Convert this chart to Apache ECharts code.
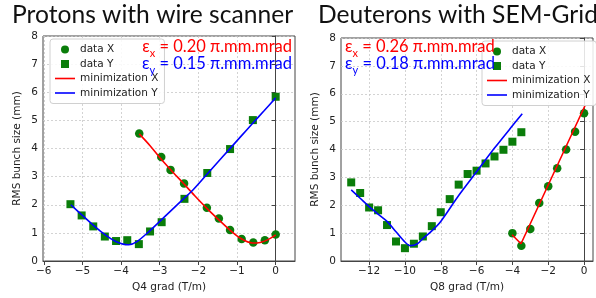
<!DOCTYPE html>
<html>
<head>
<meta charset="utf-8">
<script src="https://cdn.jsdelivr.net/npm/echarts@6/dist/echarts.min.js"></script>
<style>
  html, body { margin: 0; padding: 0; background: #fff; }
  #chart { width: 596px; height: 298px; }
</style>
</head>
<body>
<div id="chart"></div>
<script>
// protons, Q4 scan
var q4DataXGrad = [-3.53, -2.96, -2.72, -2.37, -1.78, -1.47, -1.18, -0.88, -0.58, -0.28, 0];
var q4DataXSize = [4.53, 3.70, 3.24, 2.76, 1.89, 1.51, 1.10, 0.78, 0.66, 0.74, 0.94];
var q4DataYGrad = [-5.31, -5.02, -4.72, -4.42, -4.13, -3.84, -3.54, -3.25, -2.95, -2.36, -1.77, -1.18, -0.59, 0];
var q4DataYSize = [2.02, 1.62, 1.23, 0.87, 0.71, 0.74, 0.60, 1.05, 1.38, 2.21, 3.13, 3.98, 5.01, 5.84];
var q4FitXGrad = [-3.53, -3.25, -3.0, -2.7, -2.4, -2.1, -1.8, -1.5, -1.2, -0.9, -0.6, -0.4, -0.2, 0];
var q4FitXSize = [4.52, 4.1, 3.68, 3.22, 2.78, 2.33, 1.9, 1.5, 1.12, 0.8, 0.64, 0.66, 0.76, 0.93];
var q4FitYGrad = [-5.3, -5.0, -4.7, -4.4, -4.15, -3.95, -3.8, -3.6, -3.3, -3.0, -2.7, -2.4, -2.18, -1.8, -1.5, -1.2, -0.9, -0.6, -0.3, 0];
var q4FitYSize = [2.0, 1.62, 1.25, 0.92, 0.7, 0.6, 0.58, 0.68, 1.02, 1.41, 1.8, 2.19, 2.47, 3.05, 3.51, 3.97, 4.43, 4.89, 5.34, 5.8];
var q4Ticks = [-6, -5, -4, -3, -2, -1, 0];

// deuterons, Q8 scan
var q8DataXGrad = [-4, -3.5, -3, -2.5, -2, -1.5, -1, -0.5, 0];
var q8DataXSize = [1.0, 0.55, 1.15, 2.08, 2.68, 3.33, 4.0, 4.64, 5.30];
var q8DataYGrad = [-13, -12.5, -12, -11.5, -11, -10.5, -10, -9.5, -9, -8.5, -8, -7.5, -7, -6.5, -6, -5.5, -5, -4.5, -4, -3.5];
var q8DataYSize = [2.82, 2.44, 1.92, 1.82, 1.29, 0.70, 0.46, 0.62, 0.88, 1.25, 1.75, 2.22, 2.74, 3.12, 3.24, 3.50, 3.75, 3.99, 4.28, 4.62];
var q8FitXGrad = [-4.02, -3.52, 0.05];
var q8FitXSize = [0.94, 0.62, 5.57];
var q8FitYGrad = [-13, -12.5, -12, -11.5, -11, -10.5, -10, -9.7, -9.3, -9, -8.5, -8, -7, -6, -5, -4, -3.45];
var q8FitYSize = [2.55, 2.25, 1.95, 1.68, 1.42, 1.05, 0.68, 0.55, 0.62, 0.8, 1.08, 1.42, 2.35, 3.2, 4.05, 4.85, 5.28];
var q8Ticks = [-12, -10, -8, -6, -4, -2, 0];

var sizeTicksMax = 8;

function pairs(xs, ys) {
  var out = [];
  for (var i = 0; i < xs.length; i++) out.push([xs[i], ys[i]]);
  return out;
}
function minus(v) {
  return String(v).replace('-', '\u2212');
}

var chart = echarts.init(document.getElementById('chart'), null, { renderer: 'canvas' });

var tickFont = { fontFamily: 'DejaVu Sans', fontSize: 10.5, color: '#222' };
var squareIcon = 'path://M0,0H10V10H0Z';
var lineIcon = 'path://M0,0H20V1.6H0Z';

function xAxisFor(gridIndex, min, max, ticks, name) {
  return {
    gridIndex: gridIndex, type: 'value', min: min, max: max,
    name: name, nameLocation: 'middle', nameGap: 21,
    nameTextStyle: { fontFamily: 'DejaVu Sans', fontSize: 10.5, color: '#222' },
    axisLine: { show: true, onZero: false, lineStyle: { color: '#444', width: 1 } },
    axisTick: { show: true, length: 4, customValues: ticks, lineStyle: { color: '#444' } },
    axisLabel: Object.assign({ customValues: ticks, margin: 5, formatter: minus }, tickFont),
    splitLine: { show: true, lineStyle: { color: '#c8c8c8', type: [2, 2], width: 0.8 } }
  };
}
function yAxisFor(gridIndex) {
  return {
    gridIndex: gridIndex, type: 'value', min: 0, max: sizeTicksMax, interval: 1,
    name: 'RMS bunch size (mm)', nameLocation: 'middle', nameGap: 20,
    nameTextStyle: { fontFamily: 'DejaVu Sans', fontSize: 10.5, color: '#222' },
    axisLine: { show: true, lineStyle: { color: '#444', width: 1 } },
    axisTick: { show: true, length: 4, lineStyle: { color: '#444' } },
    axisLabel: Object.assign({ margin: 5 }, tickFont),
    splitLine: { show: true, lineStyle: { color: '#c8c8c8', type: [2, 2], width: 0.8 } }
  };
}
function legendFor(left, top) {
  return {
    orient: 'vertical', left: left, top: top,
    itemWidth: 20, itemHeight: 8, itemGap: 3.5,
    padding: [5, 6, 5, 5],
    backgroundColor: 'rgba(255,255,255,0.85)',
    borderColor: '#d0d0d0', borderWidth: 1, borderRadius: 3,
    textStyle: { fontFamily: 'DejaVu Sans', fontSize: 10.5, color: '#222' },
    data: [
      { name: 'data X', icon: 'circle' },
      { name: 'data Y', icon: squareIcon },
      { name: 'minimization X', icon: lineIcon },
      { name: 'minimization Y', icon: lineIcon }
    ]
  };
}
function scatter(name, idx, symbol, size, data) {
  return {
    name: name, type: 'scatter', xAxisIndex: idx, yAxisIndex: idx,
    symbol: symbol, symbolSize: size, data: data,
    itemStyle: { color: '#0a7d0a', opacity: 1 }, z: 2
  };
}
function fit(name, idx, color, data, smooth) {
  return {
    name: name, type: 'line', xAxisIndex: idx, yAxisIndex: idx,
    showSymbol: false, symbol: 'none', smooth: smooth, data: data,
    itemStyle: { color: color }, lineStyle: { color: color, width: 1.6 }, z: 3
  };
}

// emittance annotation: epsilon with subscript, then the value
function emittance(sub, value, color) {
  var base = { fontFamily: 'Lato', fontSize: 16.5, fontWeight: 'normal', color: color };
  return {
    text: '{e|\u03b5}{s|' + sub + '}{t| = ' + value + ' \u03c0.mm.mrad}',
    textStyle: {
      fontWeight: 'normal',
      rich: {
        e: base,
        s: { fontFamily: 'Lato', fontSize: 11, fontWeight: 'normal', color: color, verticalAlign: 'bottom', padding: [0, 0, -4, 0] },
        t: base
      }
    }
  };
}
function annot(sub, value, color, pos) {
  var a = emittance(sub, value, color);
  return Object.assign({ text: a.text, textStyle: a.textStyle, padding: 0, z: 10 }, pos);
}

var titleStyle = { fontFamily: 'Lato', fontSize: 24.6, fontWeight: 'normal', color: '#111' };

var option = {
  animation: false,
  backgroundColor: '#fff',
  title: [
    { text: 'Protons with wire scanner', left: 12, top: 3, padding: 0, textStyle: titleStyle },
    { text: 'Deuterons with SEM-Grid', left: 318, top: 3, padding: 0, textStyle: titleStyle },
    annot('x', '0.20', '#ff0000', { right: 304, top: 38 }),
    annot('y', '0.15', '#0000ff', { right: 304, top: 55 }),
    annot('x', '0.26', '#ff0000', { left: 345, top: 38 }),
    annot('y', '0.18', '#0000ff', { left: 345, top: 55 })
  ],
  legend: [legendFor(50, 39), legendFor(482, 41)],
  grid: [
    { left: 43, top: 36, width: 252, height: 231.5, show: true, borderColor: '#444', borderWidth: 1, backgroundColor: 'transparent' },
    { left: 341, top: 38, width: 252, height: 228, show: true, borderColor: '#444', borderWidth: 1, backgroundColor: 'transparent' }
  ],
  xAxis: [
    xAxisFor(0, -6.02, 0.5, q4Ticks, 'Q4 grad (T/m)'),
    xAxisFor(1, -13.57, 0.5, q8Ticks, 'Q8 grad (T/m)')
  ],
  yAxis: [yAxisFor(0), yAxisFor(1)],
  series: [
    scatter('data X', 0, 'circle', 8.5, pairs(q4DataXGrad, q4DataXSize)),
    scatter('data Y', 0, 'rect', 8, pairs(q4DataYGrad, q4DataYSize)),
    fit('minimization X', 0, '#ff0000', pairs(q4FitXGrad, q4FitXSize), 0.3),
    fit('minimization Y', 0, '#0000ff', pairs(q4FitYGrad, q4FitYSize), 0.3),
    scatter('data X', 1, 'circle', 8.5, pairs(q8DataXGrad, q8DataXSize)),
    scatter('data Y', 1, 'rect', 8, pairs(q8DataYGrad, q8DataYSize)),
    fit('minimization X', 1, '#ff0000', pairs(q8FitXGrad, q8FitXSize), false),
    fit('minimization Y', 1, '#0000ff', pairs(q8FitYGrad, q8FitYSize), 0.3)
  ]
};

chart.setOption(option);
</script>
</body>
</html>
